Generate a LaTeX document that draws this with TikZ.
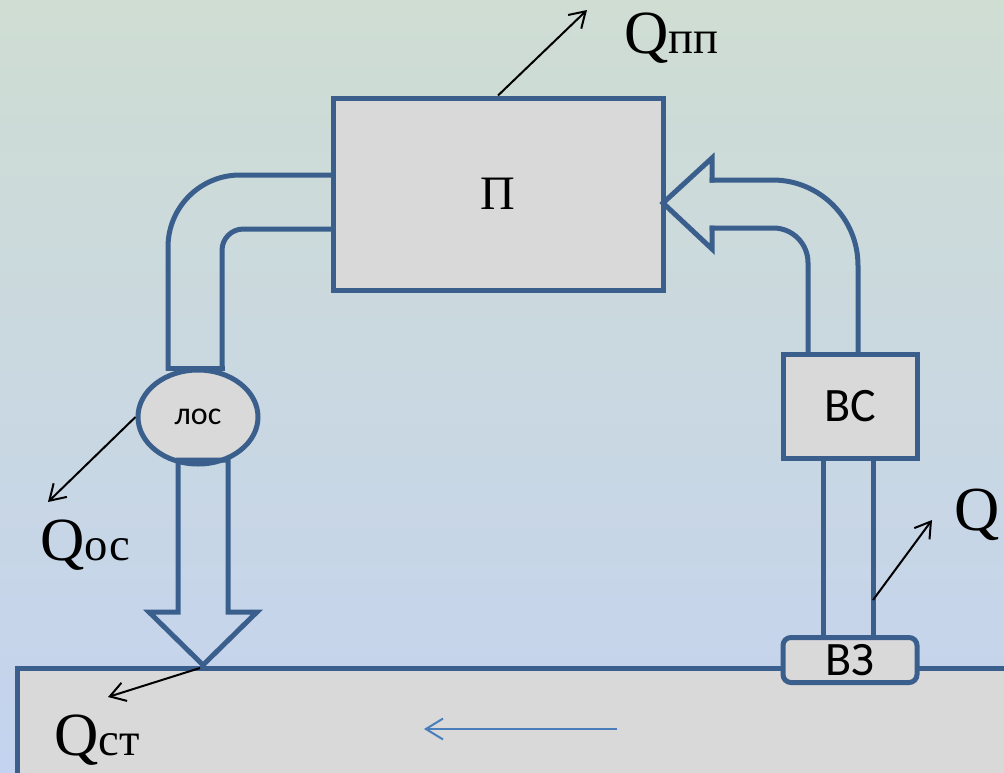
\documentclass[tikz,border=0pt]{standalone}
\usepackage{fontspec}
\setmainfont{Liberation Serif}
\newfontfamily\calibfont{Carlito}
\usetikzlibrary{shapes.geometric, arrows.meta, positioning}
\definecolor{pipeblue}{HTML}{3B5F8D}
\definecolor{boxgray}{HTML}{D9D9D9}
\definecolor{bgtop}{HTML}{CFDDD3}
\definecolor{bgbot}{HTML}{C4D3EF}
\definecolor{flowblue}{HTML}{4A7EBB}
\newcommand{\qsub}[1]{{\fontsize{35}{38}\selectfont #1}}

\begin{document}
\begin{tikzpicture}[
    x=0.75pt, y=-0.75pt,
    every node/.style={inner sep=0pt},
    pipe/.style={draw=pipeblue, line width=3.75pt, line join=miter, line cap=rect},
    box/.style={rectangle, draw=pipeblue, line width=3.75pt, fill=boxgray, align=center},
    oval/.style={ellipse, draw=pipeblue, line width=3.75pt, fill=boxgray,
                 minimum width=90pt, minimum height=70.5pt},
    qarr/.style={-{Straight Barb[length=4mm, width=5mm]}, line width=1.5pt},
    qlab/.style={anchor=base west, font=\fontsize{46}{50}\selectfont},
    sans/.style={font=\calibfont\fontsize{36}{40}\selectfont}
]
    % background
    \useasboundingbox (0,0) rectangle (1004,772);
    \shade[top color=bgtop, bottom color=bgbot] (0,0) rectangle (1004,772);

    % river bed
    \begin{scope}
        \clip (0,0) rectangle (1004,772);
        \draw[pipe, fill=boxgray] (17,668) rectangle (1040,800);
    \end{scope}
    \coordinate (flowA) at (617,729);
    \coordinate (flowB) at (424,729);
    \draw[-{Straight Barb[length=4.5mm, width=5.5mm]}, line width=1.5pt, flowblue] (flowA) -- (flowB);

    % plant
    \node[box, minimum width=247.5pt, minimum height=144pt,
          font=\fontsize{36}{40}\selectfont] (plant) at (498,194) {П};

    % pipe: plant -> treatment
    \draw[pipe, rounded corners=54pt] (333,175) -| (168,368);
    \draw[pipe] (168,368) -- (222,368);
    \draw[pipe, rounded corners=16pt] (222,368) |- (333,229);

    % treatment
    \node[oval, font=\calibfont\fontsize{24}{28}\selectfont] (los) at (198,417) {лос};
    \draw[pipe] (178,460) -- (178,612) -- (149,612) -- (203,665)
                -- (257,612) -- (228,612) -- (228,460) -- cycle;

    % intake side
    \draw[pipe, rounded corners=64pt] (858,353) |- (712,180);
    \draw[pipe] (712,180) -- (712,158) -- (663,203) -- (712,249) -- (712,228);
    \draw[pipe, rounded corners=26pt] (712,228) -| (808,353);
    \draw[pipe] (823,458) -- (823,637);
    \draw[pipe] (873,458) -- (873,637);
    \node[box, sans, minimum width=100.5pt, minimum height=78pt] (vs) at (850,406) {ВС};
    \node[box, sans, rounded corners=6pt, minimum width=100.5pt,
          minimum height=33.75pt] (vz) at (850,660) {ВЗ};

    % heat flows
    \coordinate (qppEnd) at (587,10);
    \coordinate (qStart) at (873,600);
    \coordinate (qEnd) at (932,520);
    \coordinate (qosEnd) at (48,502);
    \coordinate (qstStart) at (200,668);
    \coordinate (qstEnd) at (108,697);
    \draw[qarr] (plant.north) -- (qppEnd);
    \draw[qarr] (qStart) -- (qEnd);
    \draw[qarr] (los.west) -- (qosEnd);
    \draw[qarr] (qstStart) -- (qstEnd);

    \node[qlab] (qpp) at (624,53) {Q\qsub{пп}};
    \node[qlab, font=\fontsize{47}{50}\selectfont] (q) at (954,530) {Q};
    \node[qlab] (qos) at (40,560) {Q\qsub{ос}};
    \node[qlab] (qst) at (54,755) {Q\qsub{ст}};
\end{tikzpicture}
\end{document}
